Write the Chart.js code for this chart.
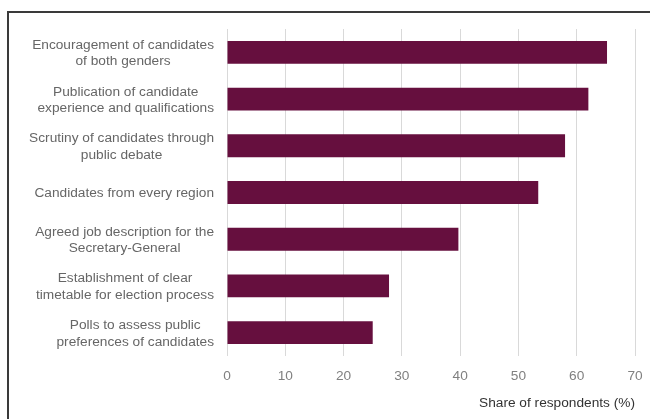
<!DOCTYPE html>
<html>
<head>
<meta charset="utf-8">
<script src="https://cdn.jsdelivr.net/npm/chart.js@4/dist/chart.umd.min.js"></script>
<style>
  html, body { margin: 0; padding: 0; background: #fff; overflow: hidden; }
  #frame {
    position: absolute; left: 7px; top: 11px; width: 700px; height: 500px;
    border: 2px solid #3a3a3a; box-sizing: border-box;
  }
  #chart { position: absolute; left: 0; top: 0; }
</style>
</head>
<body>
<div id="frame"></div>
<canvas id="chart" width="650" height="419"></canvas>
<script>
// Categories (each one split into the lines shown in the picture)
const categories = [
    ["Encouragement of candidates", "of both genders"],
    ["Publication of candidate", "experience and qualifications"],
    ["Scrutiny of candidates through", "public debate"],
    ["Candidates from every region"],
    ["Agreed job description for the", "Secretary-General"],
    ["Establishment of clear", "timetable for election process"],
    ["Polls to assess public", "preferences of candidates"],
];
const shareValues = [65.2, 62.0, 58.0, 53.4, 39.7, 27.8, 25.0];
const xTicks = [0, 10, 20, 30, 40, 50, 60, 70];
const axisTitle = "Share of respondents (%)";

const FONT = "'Liberation Sans', Arial, sans-serif";

// draws the category labels as right-aligned blocks with centred lines
const centredLabels = {
    id: "centredLabels",
    afterDraw(chart) {
        const ctx = chart.ctx;
        const yScale = chart.scales.y;
        const rightEdge = chart.chartArea.left - 13;
        const lineHeight = 16.5;
        ctx.save();
        ctx.font = "13.7px " + FONT;
        ctx.fillStyle = "#666666";
        ctx.textAlign = "center";
        ctx.textBaseline = "middle";
        categories.forEach((lines, i) => {
            const y = yScale.getPixelForValue(i) + 1;
            const blockW = Math.max(...lines.map(l => ctx.measureText(l).width));
            const cx = rightEdge - blockW / 2;
            const startY = y - (lines.length - 1) * lineHeight / 2;
            lines.forEach((line, j) => ctx.fillText(line, cx, startY + j * lineHeight));
        });
        ctx.restore();
    }
};

new Chart(document.getElementById("chart"), {
    type: "bar",
    data: {
        labels: categories.map(c => c.join(" ")),
        datasets: [{
            data: shareValues,
            backgroundColor: "#660f3e",
            borderWidth: 0,
            categoryPercentage: 1.0,
            barPercentage: 0.49,
        }],
    },
    options: {
        indexAxis: "y",
        responsive: false,
        animation: false,
        layout: { padding: { top: 29, right: 15, left: 0, bottom: 0 } },
        plugins: {
            legend: { display: false },
            tooltip: { enabled: false },
        },
        scales: {
            x: {
                min: 0,
                max: 70,
                afterBuildTicks: scale => { scale.ticks = xTicks.map(v => ({ value: v })); },
                afterFit: scale => {
                    scale.height = 63;
                    scale.paddingRight = 0;
                    scale.paddingLeft = 0;
                },
                grid: { color: "#d9d9d9", lineWidth: 1, drawTicks: false },
                border: { display: false },
                ticks: {
                    padding: 12,
                    color: "#808080",
                    font: { family: FONT, size: 13.7 },
                },
                title: {
                    display: true,
                    text: axisTitle,
                    align: "end",
                    color: "#333333",
                    font: { family: FONT, size: 13.7 },
                    padding: { top: 1, bottom: 8 },
                },
            },
            y: {
                afterFit: scale => { scale.width = 227; },
                grid: { display: false },
                border: { display: false },
                ticks: { display: false },
            },
        },
    },
    plugins: [centredLabels],
});
</script>
</body>
</html>
